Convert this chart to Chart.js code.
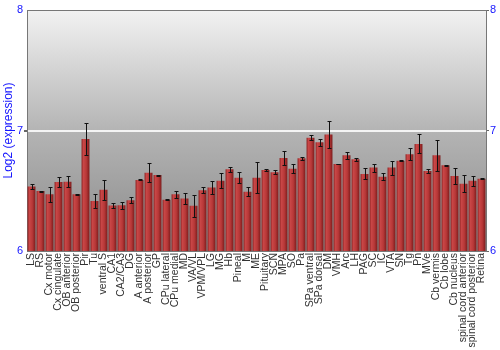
<!DOCTYPE html>
<html>
<head>
<meta charset="utf-8">
<script src="https://cdn.jsdelivr.net/npm/chart.js@4"></script>
<style>
  html, body { margin: 0; padding: 0; background: #fff; }
  #wrap { width: 500px; height: 350px; }
</style>
</head>
<body>
<div id="wrap"><canvas id="exprChart" width="500" height="350"></canvas></div>
<script>
const regions = ['LS', 'RS', 'Cx motor', 'Cx cingulate', 'OB anterior', 'OB posterior', 'Pir', 'Tu',
  'ventral S', 'CA1', 'CA2/CA3', 'DG', 'A anterior', 'A posterior', 'GP', 'CPu lateral', 'CPu medial',
  'MD', 'VA/VL', 'VPM/VPL', 'LG', 'MG', 'Hb', 'Pineal', 'M', 'ME', 'Pituitary', 'SCN', 'MPA', 'SO', 'Pa',
  'SPa ventral', 'SPa dorsal', 'DM', 'VMH', 'Arc', 'LH', 'PAG', 'SC', 'IC', 'VTA', 'SN', 'Tg', 'Pn', 'MVe',
  'Cb vermis', 'Cb lobe', 'Cb nucleus', 'spinal cord anterior', 'spinal cord posterior', 'Retina'];

const expression = [6.536, 6.497, 6.47, 6.572, 6.575, 6.47, 6.93, 6.414, 6.508, 6.378, 6.38, 6.422,
  6.59, 6.65, 6.63, 6.425, 6.47, 6.436, 6.375, 6.505, 6.528, 6.583, 6.678, 6.608, 6.492, 6.608, 6.672,
  6.653, 6.772, 6.683, 6.77, 6.94, 6.903, 6.967, 6.722, 6.795, 6.761, 6.64, 6.692, 6.617, 6.692, 6.75,
  6.803, 6.889, 6.664, 6.795, 6.711, 6.622, 6.558, 6.583, 6.6];

const stdErr = [0.02, 0.005, 0.06, 0.04, 0.045, 0.005, 0.133, 0.058, 0.083, 0.02, 0.028, 0.022,
  0.004, 0.078, 0.004, 0.004, 0.028, 0.043, 0.089, 0.022, 0.055, 0.062, 0.02, 0.047, 0.037, 0.13, 0.012,
  0.018, 0.058, 0.037, 0.014, 0.02, 0.03, 0.11, 0.004, 0.03, 0.01, 0.045, 0.033, 0.03, 0.058, 0.004,
  0.05, 0.078, 0.017, 0.13, 0.004, 0.067, 0.072, 0.04, 0.004];

const yTicks = [6, 7, 8];

const blue = '#1515ff';

// grey gradient behind the plot + frame
const plotBg = {
  id: 'plotBg',
  beforeDraw(chart) {
    const { ctx, chartArea: a } = chart;
    const g = ctx.createLinearGradient(0, a.top, 0, a.bottom);
    g.addColorStop(0, '#f2f2f2');
    g.addColorStop(0.5, '#b4b4b4');
    g.addColorStop(1, '#8a8a8a');
    ctx.save();
    ctx.fillStyle = g;
    ctx.fillRect(a.left, a.top, a.right - a.left, a.bottom - a.top);
    ctx.strokeStyle = '#777';
    ctx.lineWidth = 1;
    ctx.beginPath();
    ctx.moveTo(a.left, a.top + 0.5);
    ctx.lineTo(a.right, a.top + 0.5);
    ctx.stroke();
    ctx.restore();
  }
};

// error bars drawn from the stdErr array through the y scale
const errorBars = {
  id: 'errorBars',
  afterDatasetsDraw(chart) {
    const { ctx, scales } = chart;
    ctx.save();
    ctx.strokeStyle = '#111';
    ctx.lineWidth = 1;
    expression.forEach((v, i) => {
      const x = Math.round(scales.x.getPixelForValue(i)) + 0.5;
      const yHi = Math.round(scales.y.getPixelForValue(v + stdErr[i])) + 0.5;
      const yLo = Math.round(scales.y.getPixelForValue(v - stdErr[i])) + 0.5;
      ctx.beginPath();
      ctx.moveTo(x, yHi); ctx.lineTo(x, yLo);
      ctx.moveTo(x - 2, yHi); ctx.lineTo(x + 2, yHi);
      ctx.moveTo(x - 2, yLo); ctx.lineTo(x + 2, yLo);
      ctx.stroke();
    });
    ctx.restore();
  }
};

function barFill(context) {
  const chart = context.chart;
  if (!chart.chartArea) return '#b33535';
  const x = chart.scales.x.getPixelForValue(context.dataIndex);
  const g = chart.ctx.createLinearGradient(x - 4, 0, x + 4, 0);
  g.addColorStop(0, '#8e2424');
  g.addColorStop(0.25, '#c84646');
  g.addColorStop(0.6, '#b83838');
  g.addColorStop(1, '#7c1c1c');
  return g;
}

new Chart(document.getElementById('exprChart'), {
  type: 'bar',
  data: {
    labels: regions,
    datasets: [{
      data: expression,
      backgroundColor: barFill,
      borderWidth: 0,
      barPercentage: 0.88,
      categoryPercentage: 1.0,
    }],
  },
  options: {
    responsive: false,
    animation: false,
    layout: { padding: { top: 10, left: 0, right: 0, bottom: 0 } },
    plugins: {
      legend: { display: false },
      tooltip: { enabled: false },
    },
    scales: {
      x: {
        grid: { display: false, drawTicks: false },
        border: { display: true, color: '#777' },
        ticks: {
          autoSkip: false,
          minRotation: 90,
          maxRotation: 90,
          padding: 2,
          color: '#333',
          font: { family: 'Liberation Sans, Arial, sans-serif', size: 10.5 },
        },
        afterFit(scale) { scale.height = 99; },
      },
      y: {
        position: 'left',
        min: 6,
        max: 8,
        afterBuildTicks(scale) { scale.ticks = yTicks.map((v) => ({ value: v })); },
        grid: {
          color: (c) => (c.tick && c.tick.value === 7 ? '#f4f4f4' : 'rgba(0,0,0,0)'),
          lineWidth: (c) => (c.tick && c.tick.value === 7 ? 2 : 0),
          tickColor: '#666',
          tickLength: 3,
        },
        border: { display: true, color: '#777' },
        ticks: {
          padding: 1,
          color: blue,
          font: { family: 'Liberation Sans, Arial, sans-serif', size: 11 },
        },
        title: {
          display: true,
          text: 'Log2 (expression)',
          color: blue,
          padding: 1,
          font: { family: 'Liberation Sans, Arial, sans-serif', size: 12 },
        },
        afterFit(scale) { scale.width = 27; },
      },
      y2: {
        position: 'right',
        min: 6,
        max: 8,
        afterBuildTicks(scale) { scale.ticks = yTicks.map((v) => ({ value: v })); },
        grid: { drawOnChartArea: false, tickColor: '#666', tickLength: 3 },
        border: { display: true, color: '#777' },
        ticks: {
          padding: 1,
          color: blue,
          font: { family: 'Liberation Sans, Arial, sans-serif', size: 11 },
        },
        afterFit(scale) { scale.width = 14; },
      },
    },
  },
  plugins: [plotBg, errorBars],
});
</script>
</body>
</html>
